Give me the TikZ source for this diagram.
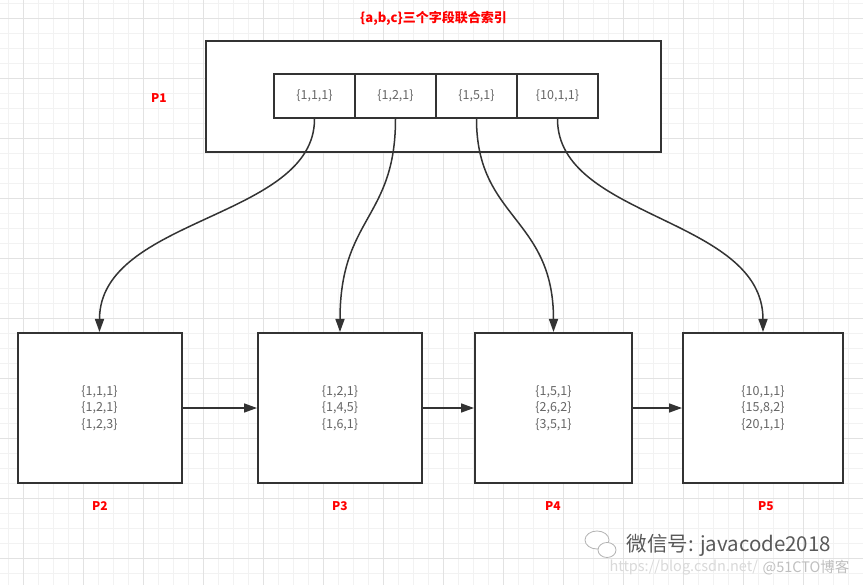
\documentclass[tikz,border=0pt]{standalone}
\usepackage{fontspec}
\setmainfont{Noto Sans CJK SC}
\usetikzlibrary{arrows.meta}

\definecolor{linegray}{HTML}{333333}
\definecolor{textgray}{HTML}{666666}
\definecolor{gridminor}{HTML}{F2F2F2}
\definecolor{gridmajor}{HTML}{E2E2E2}
\definecolor{labelred}{HTML}{FF0000}

\tikzset{
  box/.style={draw=linegray, line width=2pt, fill=white, inner sep=0pt},
  keycell/.style={box, minimum width=81pt, minimum height=44pt,
    text=textgray, font=\fontsize{12.5}{16}\selectfont},
  leaf/.style={box, minimum height=150pt, align=center,
    text=textgray, font=\fontsize{12.5}{16.5}\selectfont},
  plabel/.style={text=labelred, font=\bfseries\fontsize{12}{14}\selectfont},
  link/.style={draw=linegray, line width=1.5pt, -{Triangle[length=13pt,width=9pt]}}
}

\begin{document}
\begin{tikzpicture}[x=1pt, y=-1pt]
\useasboundingbox (0,0) rectangle (863,585);
\fill[white] (0,0) rectangle (863,585);

% grid
\foreach \i in {0,...,57} {\draw[gridminor, line width=1pt] ({8.33+15*\i},0) -- ++(0,585);}
\foreach \i in {0,...,39} {\draw[gridminor, line width=1pt] (0,{3.33+15*\i}) -- ++(863,0);}
\foreach \i in {0,...,14} {\draw[gridmajor, line width=1pt] ({23.33+60*\i},0) -- ++(0,585);}
\foreach \i in {0,...,9} {\draw[gridmajor, line width=1pt] (0,{18.33+60*\i}) -- ++(863,0);}

% root page
\node (title) at (433.5,18) [text=labelred, font=\bfseries\fontsize{13}{15}\selectfont] {\{a,b,c\}三个字段联合索引};
\node (P1box) at (433.5,96.5) [box, minimum width=455pt, minimum height=111pt] {};
\node (P1) at (159,98) [plabel] {P1};

\node (k1) at (314.5,96) [keycell] {\{1,1,1\}};
\node (k2) at (395.5,96) [keycell] {\{1,2,1\}};
\node (k3) at (476.5,96) [keycell] {\{1,5,1\}};
\node (k4) at (557.5,96) [keycell] {\{10,1,1\}};

% leaf pages
\node (P2box) at (99.5,408) [leaf, minimum width=164pt] {\{1,1,1\}\\\{1,2,1\}\\\{1,2,3\}};
\node (P3box) at (340,408) [leaf, minimum width=164pt] {\{1,2,1\}\\\{1,4,5\}\\\{1,6,1\}};
\node (P4box) at (553.5,408) [leaf, minimum width=157pt] {\{1,5,1\}\\\{2,6,2\}\\\{3,5,1\}};
\node (P5box) at (763,408) [leaf, minimum width=160pt] {\{10,1,1\}\\\{15,8,2\}\\\{20,1,1\}};

\node (P2) at (100,506) [plabel] {P2};
\node (P3) at (340,506) [plabel] {P3};
\node (P4) at (553,506) [plabel] {P4};
\node (P5) at (766,506) [plabel] {P5};

% pointers
\draw[link] (k1.south) .. controls +(0,100) and +(0,-115) .. (P2box.north);
\draw[link] (k2.south) .. controls +(0,100) and +(0,-115) .. (P3box.north);
\draw[link] (k3.south) .. controls +(0,100) and +(0,-115) .. (P4box.north);
\draw[link] (k4.south) .. controls +(0,100) and +(0,-115) .. (P5box.north);

\draw[link] (P2box.east) -- (P3box.west);
\draw[link] (P3box.east) -- (P4box.west);
\draw[link] (P4box.east) -- (P5box.west);

% watermark
\draw[gray!60, fill=white, line width=0.8pt] (597,540) ellipse (12pt and 9pt);
\draw[gray!60, fill=white, line width=0.8pt] (607,550) ellipse (9pt and 7.5pt);
\node (wx) at (729,545) [text=black!65, font=\fontsize{20.5}{22}\selectfont] {微信号: javacode2018};
\node (csdn) at (606,568) [anchor=west, text=black!15, font=\fontsize{14.5}{16}\selectfont] {https://blog.csdn.net/};
\node (cto) at (853,568) [anchor=east, text=black!25, font=\fontsize{14.5}{16}\selectfont] {@51CTO博客};
\end{tikzpicture}
\end{document}
